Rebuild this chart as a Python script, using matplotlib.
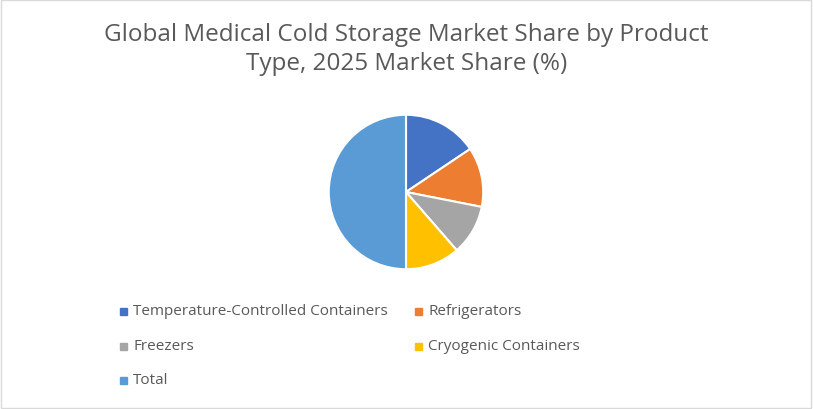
import matplotlib.pyplot as plt
from matplotlib.patches import Rectangle

labels = ["Temperature-Controlled Containers", "Refrigerators", "Freezers",
          "Cryogenic Containers", "Total"]
shares = [15.6, 12.5, 10.5, 11.4, 50.0]
colors = ["#4472C4", "#ED7D31", "#A5A5A5", "#FFC000", "#5B9BD5"]

plt.rcParams['font.family'] = ['Open Sans', 'DejaVu Sans']

fig = plt.figure(figsize=(8.13, 4.10), dpi=100)
fig.patches.append(Rectangle((0.001, 0.002), 0.997, 0.995, transform=fig.transFigure,
                             fill=False, edgecolor="#D9D9D9", linewidth=1))

fig.text(0.5, 0.945, "Global Medical Cold Storage Market Share by Product\nType, 2025 Market Share (%)",
         ha="center", va="top", fontsize=17.5, color="#595959", linespacing=1.3)

# pie centered at (406,193) px, radius ~77 px
ax = fig.add_axes([(406 - 78) / 813, 1 - (193 + 78) / 410, 156 / 813, 156 / 410])
ax.pie(shares, colors=colors, startangle=90, counterclock=False,
       wedgeprops=dict(edgecolor="white", linewidth=1.5))
ax.set_xlim(-1.01, 1.01)
ax.set_ylim(-1.01, 1.01)
ax.set_aspect("equal")

# legend: two columns, three rows
pos = [(120, 312), (415, 312), (120, 347), (415, 347), (120, 381)]
for (x, y), lab, c in zip(pos, labels, colors):
    fig.patches.append(Rectangle((x / 813, 1 - (y + 3.5) / 410), 7 / 813, 7 / 410,
                                 transform=fig.transFigure, color=c))
    fig.text((x + 13) / 813, 1 - y / 410, lab, va="center", ha="left",
             fontsize=11, color="#595959")

fig.savefig("out.png", dpi=100)
